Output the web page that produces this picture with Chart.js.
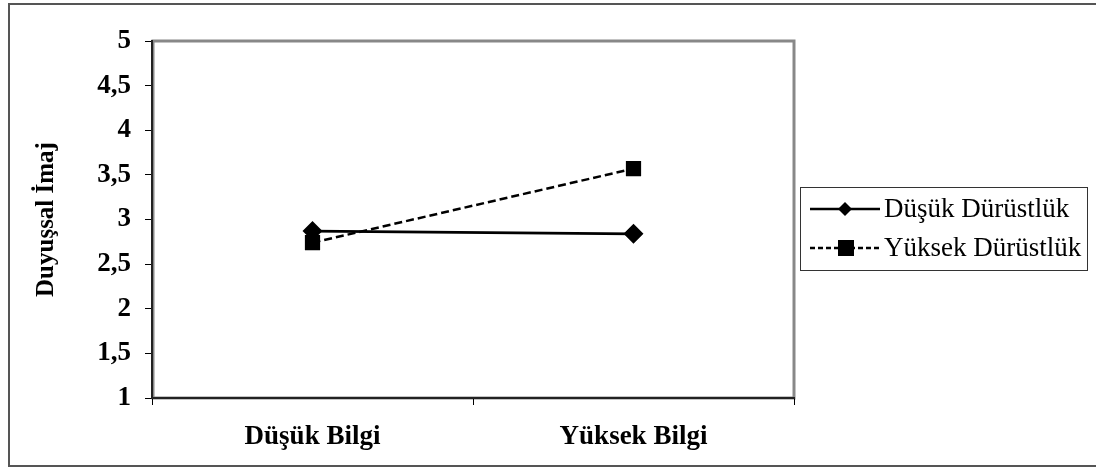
<!DOCTYPE html>
<html>
<head>
<meta charset="utf-8">
<script src="https://cdn.jsdelivr.net/npm/chart.js@4.4.0/dist/chart.umd.min.js"></script>
<style>
  html, body { margin: 0; padding: 0; background: #fff; }
  #wrap { width: 1096px; height: 467px; position: relative; }
</style>
</head>
<body>
<div id="wrap"><canvas id="imajChart" width="1096" height="467"></canvas></div>
<script>
const categories = ['Düşük Bilgi', 'Yüksek Bilgi'];
const dusukDurustluk = [2.87, 2.84];
const yuksekDurustluk = [2.74, 3.57];
const yTicks = [1, 1.5, 2, 2.5, 3, 3.5, 4, 4.5, 5];

const serif = "'Liberation Serif', 'Times New Roman', serif";

// frame around the whole figure, grey plot border, legend box
const framePlugin = {
  id: 'frame',
  beforeDraw(chart) {
    const ctx = chart.ctx;
    ctx.save();
    ctx.fillStyle = '#fff';
    ctx.fillRect(0, 0, chart.width, chart.height);
    ctx.strokeStyle = '#555';
    ctx.lineWidth = 2;
    ctx.strokeRect(9, 4, 1100, 462);
    const a = chart.chartArea;
    ctx.strokeStyle = '#888';
    ctx.lineWidth = 3;
    ctx.strokeRect(a.left + 1, a.top, a.right - a.left - 1, a.bottom - a.top);
    ctx.restore();
  },
  afterDraw(chart) {
    const ctx = chart.ctx;
    const x0 = 800, y0 = 187, w = 287, h = 83;
    ctx.save();
    ctx.strokeStyle = '#333';
    ctx.lineWidth = 1;
    ctx.strokeRect(x0 + 0.5, y0 + 0.5, w, h);
    ctx.font = '27px ' + serif;
    ctx.textBaseline = 'middle';
    ctx.fillStyle = '#000';
    chart.data.datasets.forEach((ds, i) => {
      const cy = y0 + 22 + i * 39;
      ctx.beginPath();
      ctx.setLineDash(ds.borderDash ? [5, 3] : []);
      ctx.lineWidth = 2.5;
      ctx.strokeStyle = '#000';
      ctx.moveTo(x0 + 10, cy);
      ctx.lineTo(x0 + 80, cy);
      ctx.stroke();
      ctx.setLineDash([]);
      if (ds.pointStyle === 'rectRot') {
        ctx.beginPath();
        ctx.moveTo(x0 + 45, cy - 7);
        ctx.lineTo(x0 + 52, cy);
        ctx.lineTo(x0 + 45, cy + 7);
        ctx.lineTo(x0 + 38, cy);
        ctx.closePath();
        ctx.fill();
      } else {
        ctx.fillRect(x0 + 38, cy - 8, 16, 16);
      }
      ctx.fillText(ds.label, x0 + 84, cy + 1);
    });
    ctx.restore();
  }
};

const ctx = document.getElementById('imajChart').getContext('2d');
const imajChart = new Chart(ctx, {
  type: 'line',
  data: {
    labels: categories,
    datasets: [
      {
        label: 'Düşük Dürüstlük',
        data: dusukDurustluk,
        borderColor: '#000',
        backgroundColor: '#000',
        borderWidth: 2.8,
        pointStyle: 'rectRot',
        pointRadius: 8,
        pointHoverRadius: 8
      },
      {
        label: 'Yüksek Dürüstlük',
        data: yuksekDurustluk,
        borderColor: '#000',
        backgroundColor: '#000',
        borderWidth: 2.5,
        borderDash: [8, 4],
        pointStyle: 'rect',
        pointRadius: 9,
        pointHoverRadius: 9
      }
    ]
  },
  options: {
    responsive: false,
    animation: false,
    layout: { padding: { left: 30, right: 302, top: 41, bottom: 12 } },
    plugins: {
      legend: { display: false },
      tooltip: { enabled: false }
    },
    scales: {
      x: {
        offset: true,
        grid: {
          display: true,
          drawOnChartArea: false,
          offset: true,
          color: '#000',
          tickLength: 7
        },
        border: { color: '#222', width: 2 },
        ticks: {
          color: '#000',
          padding: 16,
          font: { family: serif, size: 27, weight: 'bold' }
        },
        afterFit(scale) { scale.height = 57; }
      },
      y: {
        min: 1,
        max: 5,
        afterBuildTicks(scale) { scale.ticks = yTicks.map(v => ({ value: v })); },
        grid: {
          display: true,
          drawOnChartArea: false,
          color: '#000',
          tickLength: 7
        },
        border: { color: '#222', width: 2 },
        ticks: {
          color: '#000',
          padding: 14,
          font: { family: serif, size: 27, weight: 'bold' },
          callback: v => String(v).replace('.', ',')
        },
        title: {
          display: true,
          text: 'Duyuşsal İmaj',
          color: '#000',
          padding: { top: 2, bottom: 8 },
          font: { family: serif, size: 25, weight: 'bold' }
        },
        afterFit(scale) { scale.width = 122; }
      }
    }
  },
  plugins: [framePlugin]
});
</script>
</body>
</html>
